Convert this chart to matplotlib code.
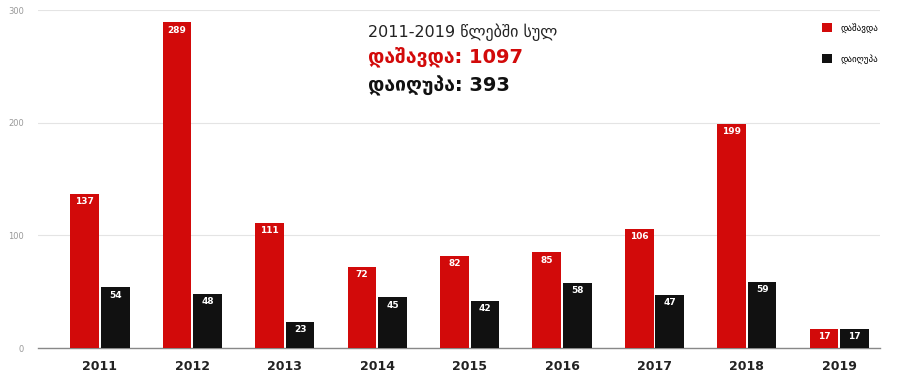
import matplotlib.pyplot as plt
import numpy as np

years = ["2011", "2012", "2013", "2014", "2015", "2016", "2017", "2018", "2019"]
injured = [137, 289, 111, 72, 82, 85, 106, 199, 17]
died = [54, 48, 23, 45, 42, 58, 47, 59, 17]
yticks = [0, 100, 200, 300]

red = "#d20a0a"
black = "#111111"

fig = plt.figure(figsize=(9.18, 3.82), dpi=100)
ax = fig.add_axes([38 / 918, 34 / 382, 842 / 918, 338 / 382])

x = np.arange(len(years))
w = 0.31
gap = 0.01
b1 = ax.bar(x - w / 2 - gap, injured, w, color=red, label="დაშავდა", zorder=3)
b2 = ax.bar(x + w / 2 + gap, died, w, color=black, label="დაიღუპა", zorder=3)

for bars, vals in ((b1, injured), (b2, died)):
    for rect, v in zip(bars, vals):
        ax.text(rect.get_x() + rect.get_width() / 2, v - 3, str(v),
                ha="center", va="top", color="white", fontsize=6.5,
                fontweight="bold", zorder=4)

ax.set_xlim(-0.67, 8.44)
ax.set_ylim(0, 300)
ax.set_yticks(yticks)
ax.set_yticklabels([str(t) for t in yticks], fontsize=6, color="#999999")
ax.tick_params(axis="y", length=0, pad=10)
ax.set_xticks(x)
ax.set_xticklabels(years, fontsize=9, fontweight="bold", color="#222222")
ax.tick_params(axis="x", length=0, pad=9)
ax.grid(axis="y", color="#e4e4e4", linewidth=0.8, zorder=0)
for s in ["top", "right", "left"]:
    ax.spines[s].set_visible(False)
ax.spines["bottom"].set_color("#888888")
ax.spines["bottom"].set_linewidth(1)

fig.text(0.401, 0.915, "2011-2019 წლებში სულ", fontsize=11.5, color="#222222",
         va="center")
fig.text(0.401, 0.85, "დაშავდა: 1097", fontsize=14, color=red,
         fontweight="bold", va="center")
fig.text(0.401, 0.775, "დაიღუპა: 393", fontsize=14, color=black,
         fontweight="bold", va="center")

leg = ax.legend(loc="upper left", bbox_to_anchor=(0.922, 0.985), frameon=False,
                fontsize=6.5, handlelength=1.1, handleheight=1.1,
                labelspacing=2.3, handletextpad=0.9)

fig.savefig("out.png", dpi=100)
